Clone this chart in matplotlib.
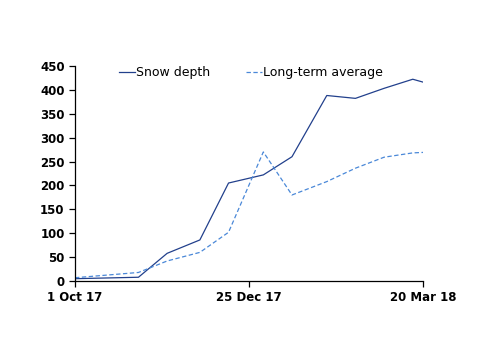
import matplotlib
matplotlib.use('Agg')
import matplotlib.pyplot as plt
import pandas as pd

# data
dates = ['2017-10-01', '2017-11-01', '2017-11-15', '2017-12-01', '2017-12-15',
         '2018-01-01', '2018-01-15', '2018-02-01', '2018-02-15', '2018-03-01',
         '2018-03-15', '2018-03-20']
snow_depth = [5, 8, 58, 86, 205, 222, 260, 388, 382, 403, 422, 416]
long_term = [7, 18, 42, 60, 102, 270, 180, 208, 236, 259, 268, 269]

tick_dates = ['2017-10-01', '2017-12-25', '2018-03-20']
tick_labels = ['1 Oct 17', '25 Dec 17', '20 Mar 18']
y_ticks = list(range(0, 451, 50))

x = pd.to_datetime(dates)

fig = plt.figure(figsize=(5, 3.54), dpi=100)
ax = fig.add_axes([0.15, 0.206, 0.696, 0.608])

ax.plot(x, snow_depth, color='#22408C', lw=0.9, label='Snow depth')
ax.plot(x, long_term, color='#4A88D8', lw=0.9, dashes=(3.5, 2),
        label='Long-term average')

ax.set_xlim(pd.Timestamp(tick_dates[0]), pd.Timestamp(tick_dates[-1]))
ax.set_ylim(0, 450)
ax.set_xticks(pd.to_datetime(tick_dates))
ax.set_xticklabels(tick_labels)
ax.set_yticks(y_ticks)

for s in ['top', 'right']:
    ax.spines[s].set_visible(False)
for s in ['left', 'bottom']:
    ax.spines[s].set_color('black')
    ax.spines[s].set_linewidth(0.9)

ax.tick_params(axis='both', direction='out', length=4, width=0.9,
               labelsize=8.5, colors='black')
for lab in ax.get_xticklabels() + ax.get_yticklabels():
    lab.set_fontweight('bold')

fig.legend(loc='center', bbox_to_anchor=(0.502, 0.794), ncol=2, frameon=False,
           fontsize=9, handlelength=1.3, handletextpad=0.1, columnspacing=2.8)

fig.savefig('out.png', dpi=100)
